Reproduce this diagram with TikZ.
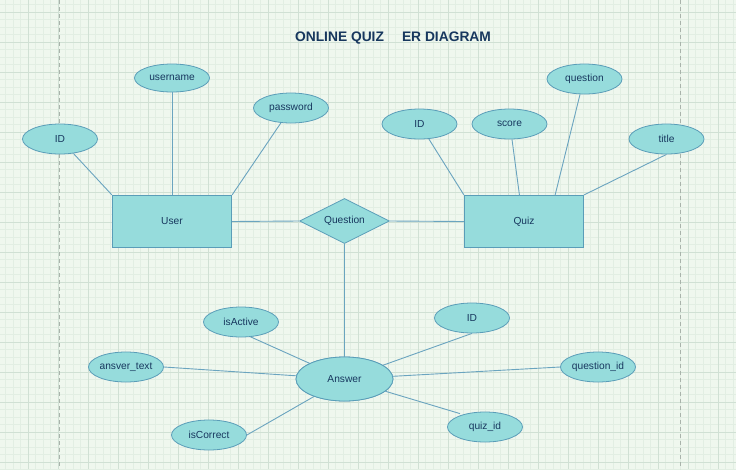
\documentclass[tikz,border=0pt]{standalone}
\usepackage{fontspec}
\setmainfont{Liberation Sans}
\usetikzlibrary{shapes.geometric}
\definecolor{bgc}{HTML}{EFF7EE}
\definecolor{minorc}{HTML}{E2EEE3}
\definecolor{majorc}{HTML}{D0E0D4}
\definecolor{dashc}{HTML}{A9B3AB}
\definecolor{fillc}{HTML}{96DCDC}
\definecolor{borderc}{HTML}{5A9DB8}
\definecolor{linec}{HTML}{6AA4BF}
\definecolor{textc}{HTML}{17375E}
\tikzset{
  every node/.style={text=textc, font=\fontsize{10.2}{12}\selectfont},
  entity/.style={draw=borderc, fill=fillc, line width=1.3pt, rectangle, minimum width=119pt, minimum height=52pt, inner sep=0pt},
  attr/.style={draw=borderc, fill=fillc, line width=0.8pt, ellipse, minimum width=75pt, minimum height=30pt, inner sep=0pt},
  rel/.style={draw=borderc, fill=fillc, line width=0.8pt, diamond, minimum width=90pt, minimum height=45pt, inner sep=0pt, aspect=2},
  conn/.style={draw=linec, line width=0.9pt},
}
\begin{document}
\begin{tikzpicture}[x=1pt,y=-1pt]
\useasboundingbox (0,0) rectangle (736,469);
\fill[bgc] (0,0) rectangle (736,469);
% minor grid
\foreach \i in {0,...,98} {
  \draw[minorc, line width=0.5pt] ({-2+7.5*\i},0) -- ({-2+7.5*\i},469);
}
\foreach \j in {0,...,63} {
  \draw[minorc, line width=0.5pt] (0,{4.5+7.5*\j}) -- (736,{4.5+7.5*\j});
}
% major grid
\foreach \i in {1,...,25} {
  \draw[majorc, line width=0.8pt] ({-2+30*\i},0) -- ({-2+30*\i},469);
}
\foreach \j in {0,...,15} {
  \draw[majorc, line width=0.8pt] (0,{12+30*\j}) -- (736,{12+30*\j});
}
\draw[dashc, line width=0.8pt, dash pattern=on 4pt off 3pt] (59,0) -- (59,469);
\draw[dashc, line width=0.8pt, dash pattern=on 4pt off 3pt] (680,0) -- (680,469);

% title
\node (title) at (393,38) {\fontsize{13.8}{16}\selectfont\bfseries ONLINE QUIZ\hspace{18pt}ER DIAGRAM};

% connectors (drawn under the shapes)
\coordinate (uid0) at (60,139);
\coordinate (qs) at (519.5,195.5);
\coordinate (qq) at (555,195.5);
\coordinate (ia) at (250,337);
\coordinate (aidb) at (472,333);
\coordinate (qzt) at (460,413);

% entities
\node[entity] (user) at (172,221.5) {User};
\node[entity] (quiz) at (524,221.5) {Quiz};
\node[attr, minimum width=97pt, minimum height=44pt] (answer) at (344.5,379) {Answer};

% user attributes
\node[attr] (uid) at (60,139) {ID};
\node[attr, minimum height=28pt] (username) at (172,78) {username};
\node[attr] (password) at (291,108) {password};

% quiz attributes
\node[attr] (qid) at (419.5,124) {ID};
\node[attr] (score) at (509.5,124) {score};
\node[attr] (qquestion) at (584.5,79) {question};
\node[attr] (qtitle) at (666.5,139) {title};

% answer attributes
\node[attr] (isactive) at (241,322) {isActive};
\node[attr] (aid) at (472,318) {ID};
\node[attr] (atext) at (126,367) {ansver\_text};
\node[attr] (questionid) at (598,367) {question\_id};
\node[attr] (iscorrect) at (209,435) {isCorrect};
\node[attr] (quizid) at (485,427) {quiz\_id};

% attribute connectors
\draw[conn] (uid) -- (user.north west);
\draw[conn] (username) -- (user.north);
\draw[conn] (password) -- (user.north east);
\draw[conn] (qid) -- (quiz.north west);
\draw[conn] (score.south) ++(2.5,0) coordinate (ss) (ss) -- (qs);
\draw[conn] (qquestion.south) ++(-4.5,0) coordinate (qqs) (qqs) -- (qq);
\draw[conn] (qtitle.south) -- (quiz.north east);
\draw[conn] (isactive.south) ++(9,-0.8) coordinate (ias) (ias) -- (answer);
\draw[conn] (aid.south) -- (answer);
\draw[conn] (atext.east) -- (answer);
\draw[conn] (questionid.west) -- (answer);
\draw[conn] (iscorrect.east) -- (answer);
\draw[conn] (quizid.north) ++(-25,2) coordinate (qzs) (qzs) -- (answer);

% redraw shapes on top of connectors
\node[attr, minimum width=97pt, minimum height=44pt] at (344.5,379) {Answer};
\node[rel] (question) at (344.5,221) {Question};
\draw[conn] (question.west) -- (user.east);
\draw[conn] (question.east) -- (quiz.west);
\draw[conn] (question.south) -- (answer.north);
\end{tikzpicture}
\end{document}
